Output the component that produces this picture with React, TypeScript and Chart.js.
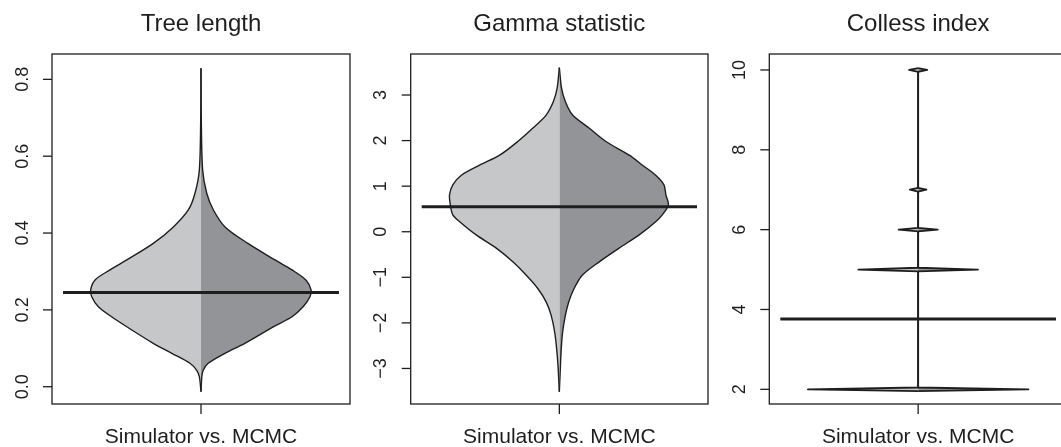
import React, { useEffect, useRef } from "react";
import { Chart, registerables } from "chart.js";

Chart.register(...registerables);

// ---------- data ----------
const xLabel = "Simulator vs. MCMC";

// Tree length
const treeY = [-0.013, 0.026, 0.043, 0.061, 0.087, 0.113, 0.156, 0.182, 0.208, 0.234, 0.252, 0.278, 0.304, 0.33, 0.373, 0.416, 0.46, 0.503, 0.564, 0.7, 0.829];
const treeSim = [0, 0.006, 0.016, 0.04, 0.106, 0.173, 0.269, 0.324, 0.372, 0.396, 0.4, 0.384, 0.33, 0.269, 0.173, 0.1, 0.046, 0.022, 0.006, 0.001, 0];
const treeMcmc = [0, 0.003, 0.008, 0.026, 0.087, 0.159, 0.262, 0.33, 0.37, 0.395, 0.399, 0.38, 0.33, 0.268, 0.17, 0.087, 0.045, 0.021, 0.006, 0.001, 0];
const treeMean = 0.245;
const treeTicks = [0, 0.2, 0.4, 0.6, 0.8];
const treeTickLabels = ["0.0", "0.2", "0.4", "0.6", "0.8"];

// Gamma statistic
const gammaY = [-3.51, -2.93, -2.56, -2.2, -1.83, -1.54, -1.24, -0.95, -0.66, -0.36, -0.07, 0.22, 0.37, 0.59, 0.81, 1.03, 1.24, 1.46, 1.68, 1.98, 2.27, 2.56, 2.85, 3.15, 3.6];
const gammaSim = [0, 0.005, 0.01, 0.017, 0.03, 0.048, 0.079, 0.121, 0.169, 0.229, 0.302, 0.362, 0.387, 0.396, 0.399, 0.387, 0.356, 0.29, 0.217, 0.151, 0.097, 0.048, 0.022, 0.008, 0];
const gammaMcmc = [0, 0.004, 0.007, 0.012, 0.022, 0.034, 0.054, 0.084, 0.145, 0.217, 0.29, 0.35, 0.374, 0.396, 0.387, 0.38, 0.35, 0.302, 0.254, 0.169, 0.109, 0.048, 0.022, 0.008, 0];
const gammaMean = 0.549;
const gammaTicks = [-3, -2, -1, 0, 1, 2, 3];
const gammaTickLabels = ["\u22123", "\u22122", "\u22121", "0", "1", "2", "3"];

// Colless index (discrete values)
const collessValues = [2, 5, 6, 7, 10];
const collessSim = [0.4, 0.217, 0.071, 0.03, 0.033];
const collessMcmc = [0.4, 0.217, 0.071, 0.03, 0.033];
const collessMean = 3.761;
const collessTicks = [2, 4, 6, 8, 10];
const collessTickLabels = ["2", "4", "6", "8", "10"];

// ---------- styles ----------
const INK = "#1e1e1e";
const LIGHT = "#c6c7c9";
const DARK = "#939498";
const FONT = '"Liberation Sans", Arial, Helvetica, sans-serif';

type PanelCfg = {
  title: string;
  ys: number[];
  left: number[];
  right: number[];
  mean: number;
  yMin: number;
  yMax: number;
  ticks: number[];
  tickLabels: string[];
  tension: number;
  outline: number;
  canvasLeft: number;
  canvasWidth: number;
  padLeft: number;
  padRight: number;
};

function spindle(values: number[], widths: number[], h: number) {
  const ys: number[] = [];
  const ws: number[] = [];
  values.forEach((v, i) => {
    ys.push(v - h, v, v + h);
    ws.push(0, widths[i], 0);
  });
  return { ys, ws };
}

const collessL = spindle(collessValues, collessSim, 0.045);
const collessR = spindle(collessValues, collessMcmc, 0.045);

const panels: PanelCfg[] = [
  {
    title: "Tree length",
    ys: treeY, left: treeSim, right: treeMcmc, mean: treeMean,
    yMin: -0.045, yMax: 0.866, ticks: treeTicks, tickLabels: treeTickLabels,
    tension: 0.3, outline: 1.4, canvasLeft: 0, canvasWidth: 355, padLeft: 52, padRight: 5,
  },
  {
    title: "Gamma statistic",
    ys: gammaY, left: gammaSim, right: gammaMcmc, mean: gammaMean,
    yMin: -3.78, yMax: 3.9, ticks: gammaTicks, tickLabels: gammaTickLabels,
    tension: 0.3, outline: 1.4, canvasLeft: 355, canvasWidth: 358, padLeft: 55.7, padRight: 5,
  },
  {
    title: "Colless index",
    ys: collessL.ys, left: collessL.ws, right: collessR.ws, mean: collessMean,
    yMin: 1.632, yMax: 10.4, ticks: collessTicks, tickLabels: collessTickLabels,
    tension: 0, outline: 1.8, canvasLeft: 713, canvasWidth: 360, padLeft: 56.3, padRight: 6,
  },
];

function ViolinPanel({ cfg }: { cfg: PanelCfg }) {
  const ref = useRef<HTMLCanvasElement>(null);
  useEffect(() => {
    if (!ref.current) return;
    const frame = {
      id: "frame",
      afterDraw(chart: any) {
        const { ctx, chartArea: a, scales } = chart;
        const x = scales.x;
        const y = scales.y;
        ctx.save();
        ctx.strokeStyle = INK;
        ctx.fillStyle = INK;
        ctx.lineWidth = 1.3;
        ctx.strokeRect(a.left, a.top, a.right - a.left, a.bottom - a.top);
        ctx.font = `18px ${FONT}`;
        ctx.textAlign = "center";
        ctx.textBaseline = "alphabetic";
        cfg.ticks.forEach((v, i) => {
          const py = y.getPixelForValue(v);
          ctx.beginPath();
          ctx.moveTo(a.left - 9, py);
          ctx.lineTo(a.left, py);
          ctx.stroke();
          ctx.save();
          ctx.translate(a.left - 24.5, py);
          ctx.rotate(-Math.PI / 2);
          ctx.fillText(cfg.tickLabels[i], 0, 0);
          ctx.restore();
        });
        const px = x.getPixelForValue(1);
        ctx.beginPath();
        ctx.moveTo(px, a.bottom);
        ctx.lineTo(px, a.bottom + 10);
        ctx.stroke();
        ctx.font = `21px ${FONT}`;
        ctx.fillText(xLabel, px, 443);
        ctx.font = `24px ${FONT}`;
        ctx.fillText(cfg.title, (a.left + a.right) / 2, 31);
        ctx.restore();
      },
    };
    const leftPts = cfg.ys.map((v, i) => ({ x: 1 - cfg.left[i], y: v }));
    const rightPts = cfg.ys.map((v, i) => ({ x: 1 + cfg.right[i], y: v }));
    const meanPts = [
      { x: 0.5, y: cfg.mean },
      { x: 1.5, y: cfg.mean },
    ];
    const chart = new Chart(ref.current, {
      type: "scatter",
      data: {
        datasets: [
          {
            data: meanPts, showLine: true, borderColor: INK, borderWidth: 3,
            pointRadius: 0, fill: false, order: 0, borderCapStyle: "butt",
          } as any,
          {
            data: leftPts, showLine: true, fill: "shape", backgroundColor: LIGHT,
            borderColor: INK, borderWidth: cfg.outline, pointRadius: 0, tension: cfg.tension,
            order: 1, borderJoinStyle: "round",
          } as any,
          {
            data: rightPts, showLine: true, fill: "shape", backgroundColor: DARK,
            borderColor: INK, borderWidth: cfg.outline, pointRadius: 0, tension: cfg.tension,
            order: 2, borderJoinStyle: "round",
          } as any,
        ],
      },
      options: {
        responsive: false,
        animation: false,
        events: [],
        layout: { padding: { left: cfg.padLeft, right: cfg.padRight, top: 54, bottom: 43 } },
        scales: {
          x: { type: "linear", display: false, min: 0.46, max: 1.54 },
          y: { type: "linear", display: false, min: cfg.yMin, max: cfg.yMax },
        },
        plugins: {
          legend: { display: false },
          tooltip: { enabled: false },
          title: { display: false },
        },
      } as any,
      plugins: [frame],
    });
    return () => chart.destroy();
  }, [cfg]);
  return (
    <canvas
      ref={ref}
      width={cfg.canvasWidth}
      height={447}
      style={{ position: "absolute", left: cfg.canvasLeft, top: 0, display: "block" }}
    />
  );
}

export default function App() {
  return (
    <div
      style={{
        position: "fixed", left: 0, top: 0, width: 1061, height: 447,
        overflow: "hidden", background: "#ffffff",
      }}
    >
      {panels.map((p) => (
        <ViolinPanel key={p.title} cfg={p} />
      ))}
    </div>
  );
}
